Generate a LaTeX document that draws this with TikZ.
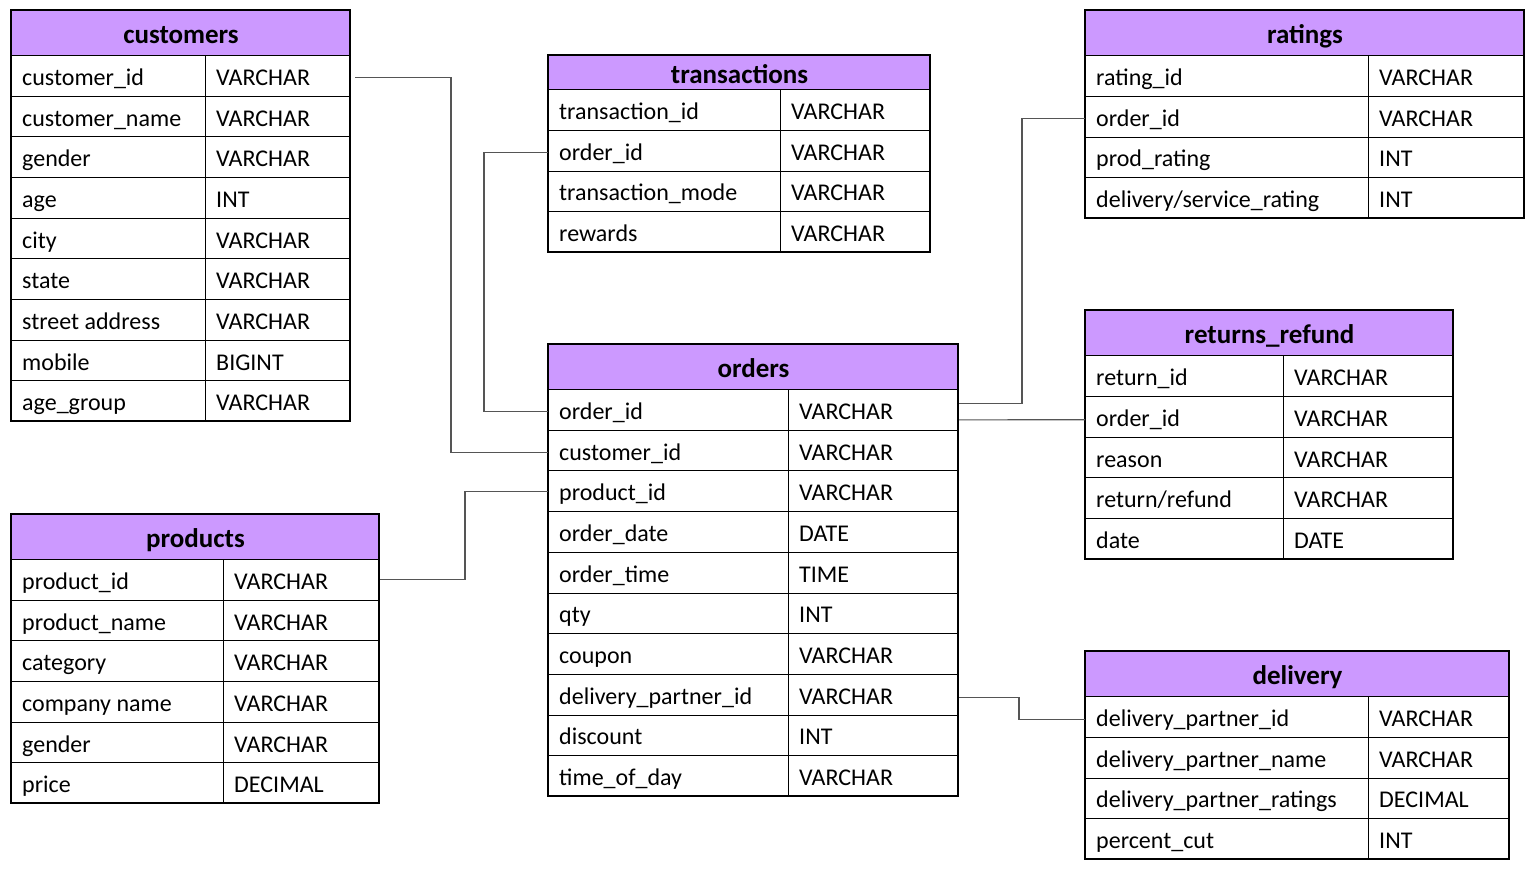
\documentclass[tikz,border=0pt]{standalone}
\usepackage{fontspec}
\setmainfont{Carlito}
\definecolor{hdrcol}{HTML}{CC99FF}
\definecolor{conncol}{HTML}{555555}
\tikzset{
  hdrbox/.style={draw=black, line width=1pt, fill=hdrcol, inner sep=0pt,
    font=\fontsize{27}{32}\selectfont\bfseries, text height=24pt, text depth=3pt},
  cellbox/.style={draw=black, line width=1pt, inner sep=0pt},
  celltext/.style={inner xsep=11pt, inner ysep=0pt, font=\fontsize{24}{28}\selectfont,
    text height=22pt, text depth=3pt},
  conn/.style={draw=conncol, line width=1.1pt},
}
% #1 name, #2 x1, #3 xdiv, #4 x2, #5 ytop, #6 header height, #7 row height, #8 title, #9 rows
\newcommand\ertable[9]{%
  \node[hdrbox, anchor=north west, minimum width={(#4-#2)*1pt}, minimum height={#6*1pt}] (#1) at (#2,#5) {#8};
  \foreach \f/\t [count=\i] in {#9} {
    \pgfmathsetmacro\yy{#5+#6+(\i-1)*#7}
    \node[cellbox, anchor=north west, minimum width={(#3-#2)*1pt}, minimum height={#7*1pt}] (#1-\i) at (#2,\yy) {};
    \node[celltext, anchor=west] (#1-\i-f) at (#1-\i.west) {\f};
    \node[cellbox, anchor=north west, minimum width={(#4-#3)*1pt}, minimum height={#7*1pt}] (#1-\i-t) at (#3,\yy) {};
    \node[celltext, anchor=west] (#1-\i-x) at (#1-\i-t.west) {\t};
    \xdef\ernrows{\i}
  }
  \draw[line width=1.1pt] (#2,#5) rectangle (#4,{#5+#6+#7*\ernrows});
}
\begin{document}
\begin{tikzpicture}[x=1pt,y=-1pt]
\useasboundingbox[fill=white] (0,0) rectangle (1537,868);

\ertable{cust}{11}{205}{350}{10}{45}{40.67}{customers}{%
  customer\_id/VARCHAR, customer\_name/VARCHAR, gender/VARCHAR, age/INT,
  city/VARCHAR, state/VARCHAR, street address/VARCHAR, mobile/BIGINT, age\_group/VARCHAR}

\ertable{tr}{548}{780}{930}{55}{34}{40.75}{transactions}{%
  transaction\_id/VARCHAR, order\_id/VARCHAR, transaction\_mode/VARCHAR, rewards/VARCHAR}

\ertable{rat}{1085}{1368}{1524}{10}{45}{40.75}{ratings}{%
  rating\_id/VARCHAR, order\_id/VARCHAR, prod\_rating/INT, {delivery/service\_rating}/INT}

\ertable{ord}{548}{788}{958}{344}{45}{40.7}{orders}{%
  order\_id/VARCHAR, customer\_id/VARCHAR, product\_id/VARCHAR, order\_date/DATE,
  order\_time/TIME, qty/INT, coupon/VARCHAR, delivery\_partner\_id/VARCHAR,
  discount/INT, time\_of\_day/VARCHAR}

\ertable{ret}{1085}{1283}{1453}{310}{45}{40.8}{returns\_refund}{%
  return\_id/VARCHAR, order\_id/VARCHAR, reason/VARCHAR, {return/refund}/VARCHAR, date/DATE}

\ertable{prod}{11}{223}{379}{514}{45}{40.67}{products}{%
  product\_id/VARCHAR, product\_name/VARCHAR, category/VARCHAR, company name/VARCHAR,
  gender/VARCHAR, price/DECIMAL}

\ertable{del}{1085}{1368}{1509}{651}{45}{40.75}{delivery}{%
  delivery\_partner\_id/VARCHAR, delivery\_partner\_name/VARCHAR,
  delivery\_partner\_ratings/DECIMAL, percent\_cut/INT}

% connectors
\draw[conn] ([xshift=4pt,yshift=-1.5pt]cust-1-t.east) -- ++(96,0) |- ([yshift=-1.5pt]ord-2.west);
\draw[conn] ([yshift=-2pt]tr-2.west) -- ++(-64,0) |- ([yshift=-2pt]ord-1.west);
\draw[conn] (prod-1-t.east) -- ++(85,0) |- (ord-3.west);
\draw[conn] ([yshift=6pt]ord-1-t.east) -- ++(63,0) |- ([yshift=-2pt]rat-2.west);
\draw[conn] ([yshift=-10pt]ord-1-t.east) -- ([yshift=-3pt]ret-2.west);
\draw[conn] ([yshift=-3pt]ord-8-t.east) -- ++(60,0) |- ([yshift=-3pt]del-1.west);
\end{tikzpicture}
\end{document}
